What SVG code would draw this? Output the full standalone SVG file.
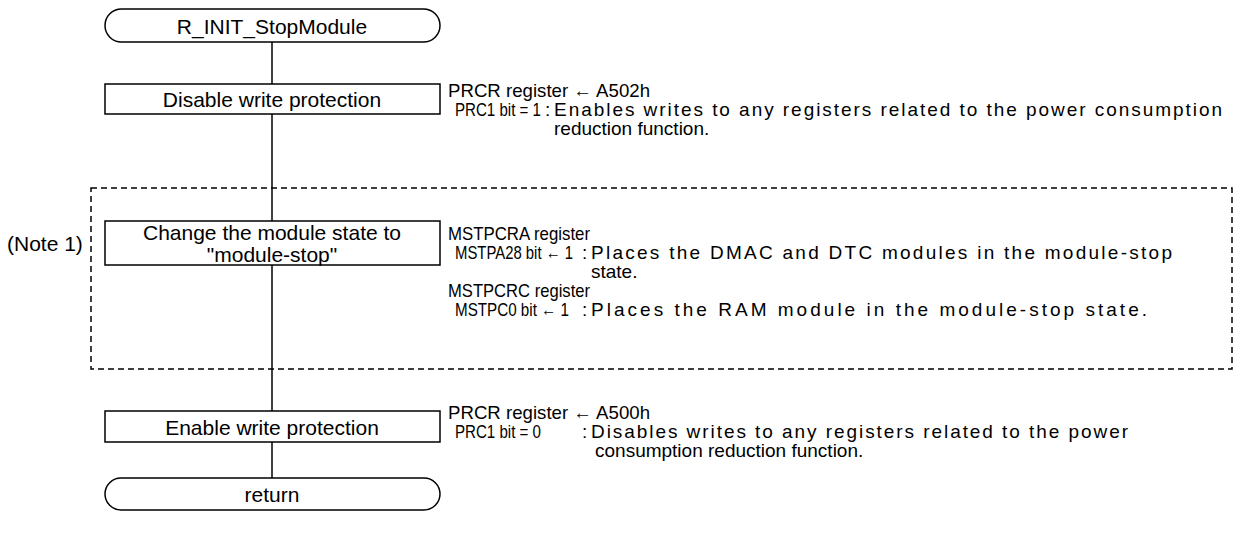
<svg xmlns="http://www.w3.org/2000/svg" width="1240" height="545" viewBox="0 0 1240 545">
<style>
.shape{fill:#fff;stroke:#000;stroke-width:1.5}
.box{font-family:"Liberation Sans",Arial,sans-serif;font-size:21px;fill:#000;text-anchor:middle;dominant-baseline:central}
.desc{font-family:"Liberation Sans",Arial,sans-serif;font-size:19px;fill:#000}
.conn{stroke:#000;stroke-width:1.5;fill:none}
.dash{stroke:#000;stroke-width:1.5;fill:none;stroke-dasharray:6 4}
</style>
<rect width="1240" height="545" fill="#fff"/>
<g id="connectors">
<line class="conn" x1="272" y1="42" x2="272" y2="84"/>
<line class="conn" x1="272" y1="114" x2="272" y2="221"/>
<line class="conn" x1="272" y1="265" x2="272" y2="411"/>
<line class="conn" x1="272" y1="442" x2="272" y2="478"/>
</g>
<g id="note-region">
<rect class="dash" x="91" y="188" width="1141" height="181"/>
<text x="7" y="251" style="font-family:'Liberation Sans',Arial,sans-serif;font-size:21px">(Note 1)</text>
</g>
<g id="start">
<rect class="shape" x="105" y="9" width="335" height="33" rx="16.5"/>
<text class="box" x="272" y="26">R_INIT_StopModule</text>
</g>
<g id="disable">
<rect class="shape" x="105" y="84" width="335" height="30"/>
<text class="box" x="272" y="99">Disable write protection</text>
</g>
<g id="disable-note">
<text class="desc" x="448" y="97" textLength="202" lengthAdjust="spacingAndGlyphs">PRCR register ← A502h</text>
<text class="desc" x="455" y="116" textLength="86" lengthAdjust="spacingAndGlyphs">PRC1 bit = 1</text>
<text class="desc" x="545" y="116">:</text>
<text class="desc" x="554" y="116" textLength="668" lengthAdjust="spacing">Enables writes to any registers related to the power consumption</text>
<text class="desc" x="554" y="135">reduction function.</text>
</g>
<g id="change">
<rect class="shape" x="105" y="221" width="335" height="44"/>
<text class="box" x="272" y="232">Change the module state to</text>
<text class="box" x="272" y="254">"module-stop"</text>
</g>
<g id="change-note">
<text class="desc" x="448" y="240" textLength="142" lengthAdjust="spacingAndGlyphs">MSTPCRA register</text>
<text class="desc" x="455" y="259" textLength="118" lengthAdjust="spacingAndGlyphs">MSTPA28 bit ← 1</text>
<text class="desc" x="582" y="259">:</text>
<text class="desc" x="591" y="259" textLength="581" lengthAdjust="spacing">Places the DMAC and DTC modules in the module-stop</text>
<text class="desc" x="591" y="278">state.</text>
<text class="desc" x="448" y="297" textLength="142" lengthAdjust="spacingAndGlyphs">MSTPCRC register</text>
<text class="desc" x="455" y="316" textLength="114" lengthAdjust="spacingAndGlyphs">MSTPC0 bit ← 1</text>
<text class="desc" x="582" y="316">:</text>
<text class="desc" x="591" y="316" textLength="556" lengthAdjust="spacing">Places the RAM module in the module-stop state.</text>
</g>
<g id="enable">
<rect class="shape" x="105" y="411" width="335" height="31"/>
<text class="box" x="272" y="427">Enable write protection</text>
</g>
<g id="enable-note">
<text class="desc" x="448" y="419" textLength="202" lengthAdjust="spacingAndGlyphs">PRCR register ← A500h</text>
<text class="desc" x="455" y="438" textLength="86" lengthAdjust="spacingAndGlyphs">PRC1 bit = 0</text>
<text class="desc" x="582" y="438">:</text>
<text class="desc" x="591" y="438" textLength="537" lengthAdjust="spacing">Disables writes to any registers related to the power</text>
<text class="desc" x="595" y="457">consumption reduction function.</text>
</g>
<g id="return">
<rect class="shape" x="105" y="478" width="335" height="32" rx="16"/>
<text class="box" x="272" y="494">return</text>
</g>
</svg>
